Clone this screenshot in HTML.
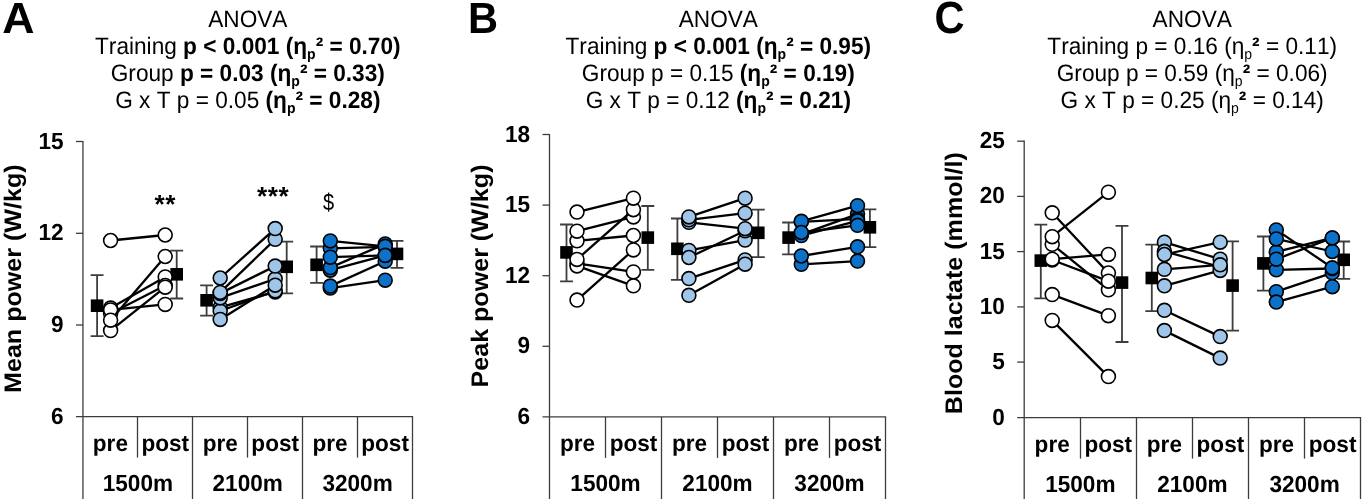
<!DOCTYPE html>
<html lang="en"><head><meta charset="utf-8"><title>Figure</title>
<style>html,body{margin:0;padding:0;background:#fff}body{width:1363px;height:502px;overflow:hidden}svg{display:block}</style>
</head><body>
<svg width="1363" height="502" viewBox="0 0 1363 502" font-family='"Liberation Sans", sans-serif' fill="#000" style="font-kerning:none" text-rendering="geometricPrecision">
<rect width="1363" height="502" fill="#fff"/>
<g id="panelA">
<text transform="translate(2.2 33.0) scale(1.09 1.06)" font-size="41" font-weight="bold">A</text>
<text transform="translate(247.8 27.0) scale(1 1.05)" font-size="22.65" text-anchor="middle" xml:space="preserve"><tspan font-weight="normal">ANOVA</tspan></text>
<text transform="translate(247.8 53.8) scale(1 1.05)" font-size="22.65" text-anchor="middle" xml:space="preserve"><tspan font-weight="normal">Training </tspan><tspan font-weight="bold">p &lt; 0.001 (η</tspan><tspan font-weight="bold" font-size="14.04" dy="5.2">p</tspan><tspan dy="-5.2" font-size="1">&#8203;</tspan><tspan font-weight="bold">² = </tspan><tspan font-weight="bold">0.70)</tspan></text>
<text transform="translate(247.8 80.8) scale(1 1.05)" font-size="22.65" text-anchor="middle" xml:space="preserve"><tspan font-weight="normal">Group </tspan><tspan font-weight="bold">p = 0.03 (η</tspan><tspan font-weight="bold" font-size="14.04" dy="5.2">p</tspan><tspan dy="-5.2" font-size="1">&#8203;</tspan><tspan font-weight="bold">² = </tspan><tspan font-weight="bold">0.33)</tspan></text>
<text transform="translate(247.8 107.8) scale(1 1.05)" font-size="22.65" text-anchor="middle" xml:space="preserve"><tspan font-weight="normal">G x T p = 0.05 </tspan><tspan font-weight="bold">(η</tspan><tspan font-weight="bold" font-size="14.04" dy="5.2">p</tspan><tspan dy="-5.2" font-size="1">&#8203;</tspan><tspan font-weight="bold">² = </tspan><tspan font-weight="bold">0.28)</tspan></text>
<g stroke="#3c3c3c" stroke-width="1.3" fill="none">
<path d="M82.95 140.9V499"/>
<path d="M75.95 416.65H413.10"/>
<path d="M75.95 141.5H82.95"/>
<path d="M75.95 233.3H82.95"/>
<path d="M75.95 325.0H82.95"/>
<path d="M137.50 416.65V457.6"/>
<path d="M192.50 416.65V499.0"/>
<path d="M247.50 416.65V457.6"/>
<path d="M302.50 416.65V499.0"/>
<path d="M357.50 416.65V457.6"/>
<path d="M412.50 416.65V499.0"/>
</g>
<g font-size="22.6" font-weight="bold">
<text transform="translate(63.7 148.5) scale(1 1.03)" text-anchor="end">15</text>
<text transform="translate(63.7 240.3) scale(1 1.03)" text-anchor="end">12</text>
<text transform="translate(63.7 332.0) scale(1 1.03)" text-anchor="end">9</text>
<text transform="translate(63.7 423.6) scale(1 1.03)" text-anchor="end">6</text>
<text transform="translate(110.4 450.9) scale(1 1.02)" text-anchor="middle">pre</text>
<text transform="translate(165.3 450.9) scale(1 1.02)" text-anchor="middle">post</text>
<text transform="translate(220.3 450.9) scale(1 1.02)" text-anchor="middle">pre</text>
<text transform="translate(275.2 450.9) scale(1 1.02)" text-anchor="middle">post</text>
<text transform="translate(330.1 450.9) scale(1 1.02)" text-anchor="middle">pre</text>
<text transform="translate(385.1 450.9) scale(1 1.02)" text-anchor="middle">post</text>
<text transform="translate(137.9 491.0) scale(1 1.03)" text-anchor="middle">1500m</text>
<text transform="translate(247.7 491.0) scale(1 1.03)" text-anchor="middle">2100m</text>
<text transform="translate(357.6 491.0) scale(1 1.03)" text-anchor="middle">3200m</text>
<text transform="translate(20.5 278.7) rotate(-90) scale(1.11 1.06)" text-anchor="middle">Mean power (W/kg)</text>
</g>
<path d="M97.1 275.1V336.2M90.65 275.1h12.9M90.65 336.2h12.9" stroke="#3d3d3d" stroke-width="1.8" fill="none"/>
<rect x="90.80" y="299.40" width="12.6" height="12.6" fill="#000"/>
<path d="M176.7 250.6V298.5M170.25 250.6h12.9M170.25 298.5h12.9" stroke="#3d3d3d" stroke-width="1.8" fill="none"/>
<rect x="170.40" y="268.00" width="12.6" height="12.6" fill="#000"/>
<path d="M110.6 240.5L165.2 235.0" stroke="#000" stroke-width="2.3"/>
<circle cx="110.6" cy="240.5" r="6.95" fill="#ffffff" stroke="#000" stroke-width="1.6"/>
<circle cx="165.2" cy="235.0" r="6.95" fill="#ffffff" stroke="#000" stroke-width="1.6"/>
<path d="M110.6 308.1L165.2 276.9" stroke="#000" stroke-width="2.3"/>
<circle cx="110.6" cy="308.1" r="6.95" fill="#ffffff" stroke="#000" stroke-width="1.6"/>
<circle cx="165.2" cy="276.9" r="6.95" fill="#ffffff" stroke="#000" stroke-width="1.6"/>
<path d="M110.6 313.4L165.2 285.4" stroke="#000" stroke-width="2.3"/>
<circle cx="110.6" cy="313.4" r="6.95" fill="#ffffff" stroke="#000" stroke-width="1.6"/>
<circle cx="165.2" cy="285.4" r="6.95" fill="#ffffff" stroke="#000" stroke-width="1.6"/>
<path d="M110.6 330.6L165.2 287.2" stroke="#000" stroke-width="2.3"/>
<circle cx="110.6" cy="330.6" r="6.95" fill="#ffffff" stroke="#000" stroke-width="1.6"/>
<circle cx="165.2" cy="287.2" r="6.95" fill="#ffffff" stroke="#000" stroke-width="1.6"/>
<path d="M110.6 309.9L165.2 304.4" stroke="#000" stroke-width="2.3"/>
<circle cx="110.6" cy="309.9" r="6.95" fill="#ffffff" stroke="#000" stroke-width="1.6"/>
<circle cx="165.2" cy="304.4" r="6.95" fill="#ffffff" stroke="#000" stroke-width="1.6"/>
<path d="M110.6 320.2L165.2 256.5" stroke="#000" stroke-width="2.3"/>
<circle cx="110.6" cy="320.2" r="6.95" fill="#ffffff" stroke="#000" stroke-width="1.6"/>
<circle cx="165.2" cy="256.5" r="6.95" fill="#ffffff" stroke="#000" stroke-width="1.6"/>
<path d="M206.6 285.3V315.6M200.15 285.3h12.9M200.15 315.6h12.9" stroke="#3d3d3d" stroke-width="1.8" fill="none"/>
<rect x="200.30" y="294.00" width="12.6" height="12.6" fill="#000"/>
<path d="M286.7 241.6V293.3M280.25 241.6h12.9M280.25 293.3h12.9" stroke="#3d3d3d" stroke-width="1.8" fill="none"/>
<rect x="280.40" y="260.50" width="12.6" height="12.6" fill="#000"/>
<path d="M220.2 307.4L275.2 291.9" stroke="#000" stroke-width="2.3"/>
<circle cx="220.2" cy="307.4" r="6.95" fill="#9fc5e8" stroke="#000" stroke-width="1.6"/>
<circle cx="275.2" cy="291.9" r="6.95" fill="#9fc5e8" stroke="#000" stroke-width="1.6"/>
<path d="M220.2 311.0L275.2 290.9" stroke="#000" stroke-width="2.3"/>
<circle cx="220.2" cy="311.0" r="6.95" fill="#9fc5e8" stroke="#000" stroke-width="1.6"/>
<circle cx="275.2" cy="290.9" r="6.95" fill="#9fc5e8" stroke="#000" stroke-width="1.6"/>
<path d="M220.2 297.9L275.2 278.8" stroke="#000" stroke-width="2.3"/>
<circle cx="220.2" cy="297.9" r="6.95" fill="#9fc5e8" stroke="#000" stroke-width="1.6"/>
<circle cx="275.2" cy="278.8" r="6.95" fill="#9fc5e8" stroke="#000" stroke-width="1.6"/>
<path d="M220.2 319.4L275.2 285.2" stroke="#000" stroke-width="2.3"/>
<circle cx="220.2" cy="319.4" r="6.95" fill="#9fc5e8" stroke="#000" stroke-width="1.6"/>
<circle cx="275.2" cy="285.2" r="6.95" fill="#9fc5e8" stroke="#000" stroke-width="1.6"/>
<path d="M220.2 293.4L275.2 266.1" stroke="#000" stroke-width="2.3"/>
<circle cx="220.2" cy="293.4" r="6.95" fill="#9fc5e8" stroke="#000" stroke-width="1.6"/>
<circle cx="275.2" cy="266.1" r="6.95" fill="#9fc5e8" stroke="#000" stroke-width="1.6"/>
<path d="M220.2 292.4L275.2 239.3" stroke="#000" stroke-width="2.3"/>
<circle cx="220.2" cy="292.4" r="6.95" fill="#9fc5e8" stroke="#000" stroke-width="1.6"/>
<circle cx="275.2" cy="239.3" r="6.95" fill="#9fc5e8" stroke="#000" stroke-width="1.6"/>
<path d="M220.2 278.0L275.2 228.6" stroke="#000" stroke-width="2.3"/>
<circle cx="220.2" cy="278.0" r="6.95" fill="#9fc5e8" stroke="#000" stroke-width="1.6"/>
<circle cx="275.2" cy="228.6" r="6.95" fill="#9fc5e8" stroke="#000" stroke-width="1.6"/>
<path d="M316.6 246.5V282.8M310.15 246.5h12.9M310.15 282.8h12.9" stroke="#3d3d3d" stroke-width="1.8" fill="none"/>
<rect x="310.30" y="258.50" width="12.6" height="12.6" fill="#000"/>
<path d="M397 240.9V267.8M390.55 240.9h12.9M390.55 267.8h12.9" stroke="#3d3d3d" stroke-width="1.8" fill="none"/>
<rect x="390.70" y="247.60" width="12.6" height="12.6" fill="#000"/>
<path d="M330.3 288.1L385.2 280.2" stroke="#000" stroke-width="2.3"/>
<circle cx="330.3" cy="288.1" r="6.95" fill="#0c72c9" stroke="#000" stroke-width="1.6"/>
<circle cx="385.2" cy="280.2" r="6.95" fill="#0c72c9" stroke="#000" stroke-width="1.6"/>
<path d="M330.3 286.1L385.2 261.2" stroke="#000" stroke-width="2.3"/>
<circle cx="330.3" cy="286.1" r="6.95" fill="#0c72c9" stroke="#000" stroke-width="1.6"/>
<circle cx="385.2" cy="261.2" r="6.95" fill="#0c72c9" stroke="#000" stroke-width="1.6"/>
<path d="M330.3 270.2L385.2 255.4" stroke="#000" stroke-width="2.3"/>
<circle cx="330.3" cy="270.2" r="6.95" fill="#0c72c9" stroke="#000" stroke-width="1.6"/>
<circle cx="385.2" cy="255.4" r="6.95" fill="#0c72c9" stroke="#000" stroke-width="1.6"/>
<path d="M330.3 248.3L385.2 246.9" stroke="#000" stroke-width="2.3"/>
<circle cx="330.3" cy="248.3" r="6.95" fill="#0c72c9" stroke="#000" stroke-width="1.6"/>
<circle cx="385.2" cy="246.9" r="6.95" fill="#0c72c9" stroke="#000" stroke-width="1.6"/>
<path d="M330.3 267.6L385.2 243.9" stroke="#000" stroke-width="2.3"/>
<circle cx="330.3" cy="267.6" r="6.95" fill="#0c72c9" stroke="#000" stroke-width="1.6"/>
<circle cx="385.2" cy="243.9" r="6.95" fill="#0c72c9" stroke="#000" stroke-width="1.6"/>
<path d="M330.3 240.9L385.2 246.3" stroke="#000" stroke-width="2.3"/>
<circle cx="330.3" cy="240.9" r="6.95" fill="#0c72c9" stroke="#000" stroke-width="1.6"/>
<circle cx="385.2" cy="246.3" r="6.95" fill="#0c72c9" stroke="#000" stroke-width="1.6"/>
<path d="M330.3 257.2L385.2 255.3" stroke="#000" stroke-width="2.3"/>
<circle cx="330.3" cy="257.2" r="6.95" fill="#0c72c9" stroke="#000" stroke-width="1.6"/>
<circle cx="385.2" cy="255.3" r="6.95" fill="#0c72c9" stroke="#000" stroke-width="1.6"/>
<text transform="translate(165.3 213.4) scale(1 1)" font-size="26.2" font-weight="bold" letter-spacing="0.6" text-anchor="middle">**</text>
<text transform="translate(273.2 205.4) scale(1 1)" font-size="26.2" font-weight="bold" letter-spacing="0.6" text-anchor="middle">***</text>
<text transform="translate(328.5 210.1) scale(1 1.18)" font-size="20" font-weight="normal" letter-spacing="0" text-anchor="middle">$</text>
</g>
<g id="panelB">
<text transform="translate(468.0 33.0) scale(1.015 1.06)" font-size="41" font-weight="bold">B</text>
<text transform="translate(718.3 27.0) scale(1 1.05)" font-size="22.65" text-anchor="middle" xml:space="preserve"><tspan font-weight="normal">ANOVA</tspan></text>
<text transform="translate(718.3 53.8) scale(1 1.05)" font-size="22.65" text-anchor="middle" xml:space="preserve"><tspan font-weight="normal">Training </tspan><tspan font-weight="bold">p &lt; 0.001 (η</tspan><tspan font-weight="bold" font-size="14.04" dy="5.2">p</tspan><tspan dy="-5.2" font-size="1">&#8203;</tspan><tspan font-weight="bold">² = </tspan><tspan font-weight="bold">0.95)</tspan></text>
<text transform="translate(718.3 80.8) scale(1 1.05)" font-size="22.65" text-anchor="middle" xml:space="preserve"><tspan font-weight="normal">Group p = 0.15 </tspan><tspan font-weight="bold">(η</tspan><tspan font-weight="bold" font-size="14.04" dy="5.2">p</tspan><tspan dy="-5.2" font-size="1">&#8203;</tspan><tspan font-weight="bold">² = </tspan><tspan font-weight="bold">0.19)</tspan></text>
<text transform="translate(718.3 107.8) scale(1 1.05)" font-size="22.65" text-anchor="middle" xml:space="preserve"><tspan font-weight="normal">G x T p = 0.12 </tspan><tspan font-weight="bold">(η</tspan><tspan font-weight="bold" font-size="14.04" dy="5.2">p</tspan><tspan dy="-5.2" font-size="1">&#8203;</tspan><tspan font-weight="bold">² = </tspan><tspan font-weight="bold">0.21)</tspan></text>
<g stroke="#3c3c3c" stroke-width="1.3" fill="none">
<path d="M549.5 133.9V499"/>
<path d="M542.5 416.95H886.10"/>
<path d="M542.5 134.5H549.5"/>
<path d="M542.5 205.1H549.5"/>
<path d="M542.5 275.7H549.5"/>
<path d="M542.5 346.3H549.5"/>
<path d="M605.50 416.95V457.9"/>
<path d="M661.50 416.95V499.0"/>
<path d="M717.50 416.95V457.9"/>
<path d="M773.50 416.95V499.0"/>
<path d="M829.50 416.95V457.9"/>
<path d="M885.50 416.95V499.0"/>
</g>
<g font-size="22.6" font-weight="bold">
<text transform="translate(530.2 141.5) scale(1 1.03)" text-anchor="end">18</text>
<text transform="translate(530.2 212.1) scale(1 1.03)" text-anchor="end">15</text>
<text transform="translate(530.2 282.7) scale(1 1.03)" text-anchor="end">12</text>
<text transform="translate(530.2 353.3) scale(1 1.03)" text-anchor="end">9</text>
<text transform="translate(530.2 423.9) scale(1 1.03)" text-anchor="end">6</text>
<text transform="translate(577.5 451.2) scale(1 1.02)" text-anchor="middle">pre</text>
<text transform="translate(633.5 451.2) scale(1 1.02)" text-anchor="middle">post</text>
<text transform="translate(689.5 451.2) scale(1 1.02)" text-anchor="middle">pre</text>
<text transform="translate(745.5 451.2) scale(1 1.02)" text-anchor="middle">post</text>
<text transform="translate(801.5 451.2) scale(1 1.02)" text-anchor="middle">pre</text>
<text transform="translate(857.5 451.2) scale(1 1.02)" text-anchor="middle">post</text>
<text transform="translate(605.5 491.4) scale(1 1.03)" text-anchor="middle">1500m</text>
<text transform="translate(717.5 491.4) scale(1 1.03)" text-anchor="middle">2100m</text>
<text transform="translate(829.5 491.4) scale(1 1.03)" text-anchor="middle">3200m</text>
<text transform="translate(487.7 276.0) rotate(-90) scale(1.11 1.06)" text-anchor="middle">Peak power (W/kg)</text>
</g>
<path d="M566.5 224.5V281.4M560.05 224.5h12.9M560.05 281.4h12.9" stroke="#3d3d3d" stroke-width="1.8" fill="none"/>
<rect x="560.20" y="246.10" width="12.6" height="12.6" fill="#000"/>
<path d="M647.8 206V269.9M641.35 206h12.9M641.35 269.9h12.9" stroke="#3d3d3d" stroke-width="1.8" fill="none"/>
<rect x="641.50" y="231.30" width="12.6" height="12.6" fill="#000"/>
<path d="M577 240.8L633.4 235.5" stroke="#000" stroke-width="2.3"/>
<circle cx="577" cy="240.8" r="6.95" fill="#ffffff" stroke="#000" stroke-width="1.6"/>
<circle cx="633.4" cy="235.5" r="6.95" fill="#ffffff" stroke="#000" stroke-width="1.6"/>
<path d="M577 231.2L633.4 216.9" stroke="#000" stroke-width="2.3"/>
<circle cx="577" cy="231.2" r="6.95" fill="#ffffff" stroke="#000" stroke-width="1.6"/>
<circle cx="633.4" cy="216.9" r="6.95" fill="#ffffff" stroke="#000" stroke-width="1.6"/>
<path d="M577 300.1L633.4 249.9" stroke="#000" stroke-width="2.3"/>
<circle cx="577" cy="300.1" r="6.95" fill="#ffffff" stroke="#000" stroke-width="1.6"/>
<circle cx="633.4" cy="249.9" r="6.95" fill="#ffffff" stroke="#000" stroke-width="1.6"/>
<path d="M577 263.3L633.4 271.9" stroke="#000" stroke-width="2.3"/>
<circle cx="577" cy="263.3" r="6.95" fill="#ffffff" stroke="#000" stroke-width="1.6"/>
<circle cx="633.4" cy="271.9" r="6.95" fill="#ffffff" stroke="#000" stroke-width="1.6"/>
<path d="M577 265.9L633.4 285.8" stroke="#000" stroke-width="2.3"/>
<circle cx="577" cy="265.9" r="6.95" fill="#ffffff" stroke="#000" stroke-width="1.6"/>
<circle cx="633.4" cy="285.8" r="6.95" fill="#ffffff" stroke="#000" stroke-width="1.6"/>
<path d="M577 259.4L633.4 209.7" stroke="#000" stroke-width="2.3"/>
<circle cx="577" cy="259.4" r="6.95" fill="#ffffff" stroke="#000" stroke-width="1.6"/>
<circle cx="633.4" cy="209.7" r="6.95" fill="#ffffff" stroke="#000" stroke-width="1.6"/>
<path d="M577 212.1L633.4 198.2" stroke="#000" stroke-width="2.3"/>
<circle cx="577" cy="212.1" r="6.95" fill="#ffffff" stroke="#000" stroke-width="1.6"/>
<circle cx="633.4" cy="198.2" r="6.95" fill="#ffffff" stroke="#000" stroke-width="1.6"/>
<path d="M677.4 218.5V279.9M670.95 218.5h12.9M670.95 279.9h12.9" stroke="#3d3d3d" stroke-width="1.8" fill="none"/>
<rect x="671.10" y="242.50" width="12.6" height="12.6" fill="#000"/>
<path d="M758.3 209.6V257.2M751.85 209.6h12.9M751.85 257.2h12.9" stroke="#3d3d3d" stroke-width="1.8" fill="none"/>
<rect x="752.00" y="226.50" width="12.6" height="12.6" fill="#000"/>
<path d="M688.9 250.4L745.1 240.1" stroke="#000" stroke-width="2.3"/>
<circle cx="688.9" cy="250.4" r="6.95" fill="#9fc5e8" stroke="#000" stroke-width="1.6"/>
<circle cx="745.1" cy="240.1" r="6.95" fill="#9fc5e8" stroke="#000" stroke-width="1.6"/>
<path d="M688.9 257.5L745.1 230.8" stroke="#000" stroke-width="2.3"/>
<circle cx="688.9" cy="257.5" r="6.95" fill="#9fc5e8" stroke="#000" stroke-width="1.6"/>
<circle cx="745.1" cy="230.8" r="6.95" fill="#9fc5e8" stroke="#000" stroke-width="1.6"/>
<path d="M688.9 278.6L745.1 259.9" stroke="#000" stroke-width="2.3"/>
<circle cx="688.9" cy="278.6" r="6.95" fill="#9fc5e8" stroke="#000" stroke-width="1.6"/>
<circle cx="745.1" cy="259.9" r="6.95" fill="#9fc5e8" stroke="#000" stroke-width="1.6"/>
<path d="M688.9 295.3L745.1 264.2" stroke="#000" stroke-width="2.3"/>
<circle cx="688.9" cy="295.3" r="6.95" fill="#9fc5e8" stroke="#000" stroke-width="1.6"/>
<circle cx="745.1" cy="264.2" r="6.95" fill="#9fc5e8" stroke="#000" stroke-width="1.6"/>
<path d="M688.9 222.3L745.1 228.7" stroke="#000" stroke-width="2.3"/>
<circle cx="688.9" cy="222.3" r="6.95" fill="#9fc5e8" stroke="#000" stroke-width="1.6"/>
<circle cx="745.1" cy="228.7" r="6.95" fill="#9fc5e8" stroke="#000" stroke-width="1.6"/>
<path d="M688.9 219.8L745.1 213.2" stroke="#000" stroke-width="2.3"/>
<circle cx="688.9" cy="219.8" r="6.95" fill="#9fc5e8" stroke="#000" stroke-width="1.6"/>
<circle cx="745.1" cy="213.2" r="6.95" fill="#9fc5e8" stroke="#000" stroke-width="1.6"/>
<path d="M688.9 216.9L745.1 198.2" stroke="#000" stroke-width="2.3"/>
<circle cx="688.9" cy="216.9" r="6.95" fill="#9fc5e8" stroke="#000" stroke-width="1.6"/>
<circle cx="745.1" cy="198.2" r="6.95" fill="#9fc5e8" stroke="#000" stroke-width="1.6"/>
<path d="M788.6 222.5V254.3M782.15 222.5h12.9M782.15 254.3h12.9" stroke="#3d3d3d" stroke-width="1.8" fill="none"/>
<rect x="782.30" y="231.30" width="12.6" height="12.6" fill="#000"/>
<path d="M869.9 209.4V247.2M863.45 209.4h12.9M863.45 247.2h12.9" stroke="#3d3d3d" stroke-width="1.8" fill="none"/>
<rect x="863.60" y="221.00" width="12.6" height="12.6" fill="#000"/>
<path d="M801.3 264.3L857.5 261.1" stroke="#000" stroke-width="2.3"/>
<circle cx="801.3" cy="264.3" r="6.95" fill="#0c72c9" stroke="#000" stroke-width="1.6"/>
<circle cx="857.5" cy="261.1" r="6.95" fill="#0c72c9" stroke="#000" stroke-width="1.6"/>
<path d="M801.3 256.0L857.5 246.8" stroke="#000" stroke-width="2.3"/>
<circle cx="801.3" cy="256.0" r="6.95" fill="#0c72c9" stroke="#000" stroke-width="1.6"/>
<circle cx="857.5" cy="246.8" r="6.95" fill="#0c72c9" stroke="#000" stroke-width="1.6"/>
<path d="M801.3 234.3L857.5 214.1" stroke="#000" stroke-width="2.3"/>
<circle cx="801.3" cy="234.3" r="6.95" fill="#0c72c9" stroke="#000" stroke-width="1.6"/>
<circle cx="857.5" cy="214.1" r="6.95" fill="#0c72c9" stroke="#000" stroke-width="1.6"/>
<path d="M801.3 221.8L857.5 218.9" stroke="#000" stroke-width="2.3"/>
<circle cx="801.3" cy="221.8" r="6.95" fill="#0c72c9" stroke="#000" stroke-width="1.6"/>
<circle cx="857.5" cy="218.9" r="6.95" fill="#0c72c9" stroke="#000" stroke-width="1.6"/>
<path d="M801.3 221.3L857.5 205.7" stroke="#000" stroke-width="2.3"/>
<circle cx="801.3" cy="221.3" r="6.95" fill="#0c72c9" stroke="#000" stroke-width="1.6"/>
<circle cx="857.5" cy="205.7" r="6.95" fill="#0c72c9" stroke="#000" stroke-width="1.6"/>
<path d="M801.3 235.6L857.5 220.8" stroke="#000" stroke-width="2.3"/>
<circle cx="801.3" cy="235.6" r="6.95" fill="#0c72c9" stroke="#000" stroke-width="1.6"/>
<circle cx="857.5" cy="220.8" r="6.95" fill="#0c72c9" stroke="#000" stroke-width="1.6"/>
<path d="M801.3 232.5L857.5 225.3" stroke="#000" stroke-width="2.3"/>
<circle cx="801.3" cy="232.5" r="6.95" fill="#0c72c9" stroke="#000" stroke-width="1.6"/>
<circle cx="857.5" cy="225.3" r="6.95" fill="#0c72c9" stroke="#000" stroke-width="1.6"/>
</g>
<g id="panelC">
<text transform="translate(934.4 33.3) scale(1.015 1.1)" font-size="41" font-weight="bold">C</text>
<text transform="translate(1192.2 27.0) scale(1 1.05)" font-size="22.65" text-anchor="middle" xml:space="preserve"><tspan font-weight="normal">ANOVA</tspan></text>
<text transform="translate(1192.2 53.8) scale(1 1.05)" font-size="22.65" text-anchor="middle" xml:space="preserve"><tspan font-weight="normal">Training p = 0.16 (η</tspan><tspan font-weight="normal" font-size="14.04" dy="5.2">p</tspan><tspan dy="-5.2" font-size="1">&#8203;</tspan><tspan font-weight="bold">²</tspan><tspan font-weight="normal"> = 0.11)</tspan></text>
<text transform="translate(1192.2 80.8) scale(1 1.05)" font-size="22.65" text-anchor="middle" xml:space="preserve"><tspan font-weight="normal">Group p = 0.59 (η</tspan><tspan font-weight="normal" font-size="14.04" dy="5.2">p</tspan><tspan dy="-5.2" font-size="1">&#8203;</tspan><tspan font-weight="bold">²</tspan><tspan font-weight="normal"> = 0.06)</tspan></text>
<text transform="translate(1192.2 107.8) scale(1 1.05)" font-size="22.65" text-anchor="middle" xml:space="preserve"><tspan font-weight="normal">G x T p = 0.25 (η</tspan><tspan font-weight="normal" font-size="14.04" dy="5.2">p</tspan><tspan dy="-5.2" font-size="1">&#8203;</tspan><tspan font-weight="bold">²</tspan><tspan font-weight="normal"> = 0.14)</tspan></text>
<g stroke="#3c3c3c" stroke-width="1.3" fill="none">
<path d="M1024.2 140.6V499"/>
<path d="M1017.2 417.6H1361.10"/>
<path d="M1017.2 141.2H1024.2"/>
<path d="M1017.2 196.4H1024.2"/>
<path d="M1017.2 251.6H1024.2"/>
<path d="M1017.2 306.9H1024.2"/>
<path d="M1017.2 362.1H1024.2"/>
<path d="M1080.50 417.6V458.6"/>
<path d="M1136.50 417.6V499.0"/>
<path d="M1192.50 417.6V458.6"/>
<path d="M1248.50 417.6V499.0"/>
<path d="M1304.50 417.6V458.6"/>
<path d="M1360.50 417.6V499.0"/>
</g>
<g font-size="22.6" font-weight="bold">
<text transform="translate(1004.9 148.2) scale(1 1.03)" text-anchor="end">25</text>
<text transform="translate(1004.9 203.4) scale(1 1.03)" text-anchor="end">20</text>
<text transform="translate(1004.9 258.6) scale(1 1.03)" text-anchor="end">15</text>
<text transform="translate(1004.9 313.9) scale(1 1.03)" text-anchor="end">10</text>
<text transform="translate(1004.9 369.1) scale(1 1.03)" text-anchor="end">5</text>
<text transform="translate(1004.9 424.6) scale(1 1.03)" text-anchor="end">0</text>
<text transform="translate(1052.2 451.9) scale(1 1.02)" text-anchor="middle">pre</text>
<text transform="translate(1108.3 451.9) scale(1 1.02)" text-anchor="middle">post</text>
<text transform="translate(1164.4 451.9) scale(1 1.02)" text-anchor="middle">pre</text>
<text transform="translate(1220.4 451.9) scale(1 1.02)" text-anchor="middle">post</text>
<text transform="translate(1276.5 451.9) scale(1 1.02)" text-anchor="middle">pre</text>
<text transform="translate(1332.6 451.9) scale(1 1.02)" text-anchor="middle">post</text>
<text transform="translate(1080.3 492.0) scale(1 1.03)" text-anchor="middle">1500m</text>
<text transform="translate(1192.4 492.0) scale(1 1.03)" text-anchor="middle">2100m</text>
<text transform="translate(1304.6 492.0) scale(1 1.03)" text-anchor="middle">3200m</text>
<text transform="translate(962.2 283.2) rotate(-90) scale(1.11 1.06)" text-anchor="middle">Blood lactate (mmol/l)</text>
</g>
<path d="M1040.8 224.7V298.4M1034.35 224.7h12.9M1034.35 298.4h12.9" stroke="#3d3d3d" stroke-width="1.8" fill="none"/>
<rect x="1034.50" y="254.30" width="12.6" height="12.6" fill="#000"/>
<path d="M1122 225.9V342M1115.55 225.9h12.9M1115.55 342h12.9" stroke="#3d3d3d" stroke-width="1.8" fill="none"/>
<rect x="1115.70" y="276.30" width="12.6" height="12.6" fill="#000"/>
<path d="M1052.2 212.8L1108.4 273" stroke="#000" stroke-width="2.3"/>
<circle cx="1052.2" cy="212.8" r="6.95" fill="#ffffff" stroke="#000" stroke-width="1.6"/>
<circle cx="1108.4" cy="273" r="6.95" fill="#ffffff" stroke="#000" stroke-width="1.6"/>
<path d="M1052.2 244.3L1108.4 289.8" stroke="#000" stroke-width="2.3"/>
<circle cx="1052.2" cy="244.3" r="6.95" fill="#ffffff" stroke="#000" stroke-width="1.6"/>
<circle cx="1108.4" cy="289.8" r="6.95" fill="#ffffff" stroke="#000" stroke-width="1.6"/>
<path d="M1052.2 236.7L1108.4 192.2" stroke="#000" stroke-width="2.3"/>
<circle cx="1052.2" cy="236.7" r="6.95" fill="#ffffff" stroke="#000" stroke-width="1.6"/>
<circle cx="1108.4" cy="192.2" r="6.95" fill="#ffffff" stroke="#000" stroke-width="1.6"/>
<path d="M1052.2 260L1108.4 281.2" stroke="#000" stroke-width="2.3"/>
<circle cx="1052.2" cy="260" r="6.95" fill="#ffffff" stroke="#000" stroke-width="1.6"/>
<circle cx="1108.4" cy="281.2" r="6.95" fill="#ffffff" stroke="#000" stroke-width="1.6"/>
<path d="M1052.2 259.2L1108.4 254.4" stroke="#000" stroke-width="2.3"/>
<circle cx="1052.2" cy="259.2" r="6.95" fill="#ffffff" stroke="#000" stroke-width="1.6"/>
<circle cx="1108.4" cy="254.4" r="6.95" fill="#ffffff" stroke="#000" stroke-width="1.6"/>
<path d="M1052.2 294.6L1108.4 315.7" stroke="#000" stroke-width="2.3"/>
<circle cx="1052.2" cy="294.6" r="6.95" fill="#ffffff" stroke="#000" stroke-width="1.6"/>
<circle cx="1108.4" cy="315.7" r="6.95" fill="#ffffff" stroke="#000" stroke-width="1.6"/>
<path d="M1052.2 320.4L1108.4 376.6" stroke="#000" stroke-width="2.3"/>
<circle cx="1052.2" cy="320.4" r="6.95" fill="#ffffff" stroke="#000" stroke-width="1.6"/>
<circle cx="1108.4" cy="376.6" r="6.95" fill="#ffffff" stroke="#000" stroke-width="1.6"/>
<path d="M1151.8 244.7V311.2M1145.35 244.7h12.9M1145.35 311.2h12.9" stroke="#3d3d3d" stroke-width="1.8" fill="none"/>
<rect x="1145.50" y="271.70" width="12.6" height="12.6" fill="#000"/>
<path d="M1232.6 241.4V330.6M1226.15 241.4h12.9M1226.15 330.6h12.9" stroke="#3d3d3d" stroke-width="1.8" fill="none"/>
<rect x="1226.30" y="279.30" width="12.6" height="12.6" fill="#000"/>
<path d="M1164.4 242.2L1220.2 259.2" stroke="#000" stroke-width="2.3"/>
<circle cx="1164.4" cy="242.2" r="6.95" fill="#9fc5e8" stroke="#000" stroke-width="1.6"/>
<circle cx="1220.2" cy="259.2" r="6.95" fill="#9fc5e8" stroke="#000" stroke-width="1.6"/>
<path d="M1164.4 251.3L1220.2 267" stroke="#000" stroke-width="2.3"/>
<circle cx="1164.4" cy="251.3" r="6.95" fill="#9fc5e8" stroke="#000" stroke-width="1.6"/>
<circle cx="1220.2" cy="267" r="6.95" fill="#9fc5e8" stroke="#000" stroke-width="1.6"/>
<path d="M1164.4 285.8L1220.2 270.4" stroke="#000" stroke-width="2.3"/>
<circle cx="1164.4" cy="285.8" r="6.95" fill="#9fc5e8" stroke="#000" stroke-width="1.6"/>
<circle cx="1220.2" cy="270.4" r="6.95" fill="#9fc5e8" stroke="#000" stroke-width="1.6"/>
<path d="M1164.4 269.3L1220.2 264.8" stroke="#000" stroke-width="2.3"/>
<circle cx="1164.4" cy="269.3" r="6.95" fill="#9fc5e8" stroke="#000" stroke-width="1.6"/>
<circle cx="1220.2" cy="264.8" r="6.95" fill="#9fc5e8" stroke="#000" stroke-width="1.6"/>
<path d="M1164.4 254.5L1220.2 242.2" stroke="#000" stroke-width="2.3"/>
<circle cx="1164.4" cy="254.5" r="6.95" fill="#9fc5e8" stroke="#000" stroke-width="1.6"/>
<circle cx="1220.2" cy="242.2" r="6.95" fill="#9fc5e8" stroke="#000" stroke-width="1.6"/>
<path d="M1164.4 310.3L1220.2 336.6" stroke="#000" stroke-width="2.3"/>
<circle cx="1164.4" cy="310.3" r="6.95" fill="#9fc5e8" stroke="#000" stroke-width="1.6"/>
<circle cx="1220.2" cy="336.6" r="6.95" fill="#9fc5e8" stroke="#000" stroke-width="1.6"/>
<path d="M1164.4 330.6L1220.2 358.1" stroke="#000" stroke-width="2.3"/>
<circle cx="1164.4" cy="330.6" r="6.95" fill="#9fc5e8" stroke="#000" stroke-width="1.6"/>
<circle cx="1220.2" cy="358.1" r="6.95" fill="#9fc5e8" stroke="#000" stroke-width="1.6"/>
<path d="M1263.4 236.5V290.7M1256.95 236.5h12.9M1256.95 290.7h12.9" stroke="#3d3d3d" stroke-width="1.8" fill="none"/>
<rect x="1257.10" y="257.10" width="12.6" height="12.6" fill="#000"/>
<path d="M1343.7 241.5V278.8M1337.25 241.5h12.9M1337.25 278.8h12.9" stroke="#3d3d3d" stroke-width="1.8" fill="none"/>
<rect x="1337.40" y="253.50" width="12.6" height="12.6" fill="#000"/>
<path d="M1276.3 291.7L1332.3 272.8" stroke="#000" stroke-width="2.3"/>
<circle cx="1276.3" cy="291.7" r="6.95" fill="#0c72c9" stroke="#000" stroke-width="1.6"/>
<circle cx="1332.3" cy="272.8" r="6.95" fill="#0c72c9" stroke="#000" stroke-width="1.6"/>
<path d="M1276.3 302.1L1332.3 286.7" stroke="#000" stroke-width="2.3"/>
<circle cx="1276.3" cy="302.1" r="6.95" fill="#0c72c9" stroke="#000" stroke-width="1.6"/>
<circle cx="1332.3" cy="286.7" r="6.95" fill="#0c72c9" stroke="#000" stroke-width="1.6"/>
<path d="M1276.3 269.8L1332.3 268.5" stroke="#000" stroke-width="2.3"/>
<circle cx="1276.3" cy="269.8" r="6.95" fill="#0c72c9" stroke="#000" stroke-width="1.6"/>
<circle cx="1332.3" cy="268.5" r="6.95" fill="#0c72c9" stroke="#000" stroke-width="1.6"/>
<path d="M1276.3 251.9L1332.3 237.9" stroke="#000" stroke-width="2.3"/>
<circle cx="1276.3" cy="251.9" r="6.95" fill="#0c72c9" stroke="#000" stroke-width="1.6"/>
<circle cx="1332.3" cy="237.9" r="6.95" fill="#0c72c9" stroke="#000" stroke-width="1.6"/>
<path d="M1276.3 229.9L1332.3 267.8" stroke="#000" stroke-width="2.3"/>
<circle cx="1276.3" cy="229.9" r="6.95" fill="#0c72c9" stroke="#000" stroke-width="1.6"/>
<circle cx="1332.3" cy="267.8" r="6.95" fill="#0c72c9" stroke="#000" stroke-width="1.6"/>
<path d="M1276.3 238.9L1332.3 251.5" stroke="#000" stroke-width="2.3"/>
<circle cx="1276.3" cy="238.9" r="6.95" fill="#0c72c9" stroke="#000" stroke-width="1.6"/>
<circle cx="1332.3" cy="251.5" r="6.95" fill="#0c72c9" stroke="#000" stroke-width="1.6"/>
<path d="M1276.3 259.2L1332.3 237.9" stroke="#000" stroke-width="2.3"/>
<circle cx="1276.3" cy="259.2" r="6.95" fill="#0c72c9" stroke="#000" stroke-width="1.6"/>
<circle cx="1332.3" cy="237.9" r="6.95" fill="#0c72c9" stroke="#000" stroke-width="1.6"/>
</g>
</svg>
</body></html>
